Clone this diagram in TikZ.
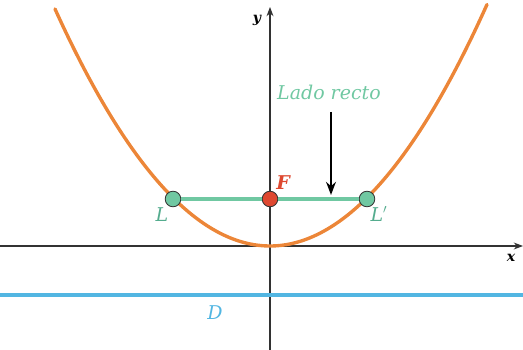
\documentclass[tikz,border=0pt]{standalone}
\usepackage{fontspec}
\setmainfont{DejaVu Serif}
\usetikzlibrary{arrows.meta}
\definecolor{naranja}{RGB}{236,134,56}
\definecolor{verdeagua}{RGB}{112,200,162}
\definecolor{verdeosc}{RGB}{84,172,142}
\definecolor{celeste}{RGB}{82,182,226}
\definecolor{rojofoco}{RGB}{222,72,48}
\definecolor{ejes}{RGB}{50,50,50}

\begin{document}
\begin{tikzpicture}[>=Stealth, scale=0.25,
    pto/.style={circle, draw=ejes, line width=0.6pt, minimum size=0.39cm, inner sep=0pt},
    etiq/.style={font=\itshape\fontsize{13.5}{15}\selectfont}]
\useasboundingbox (-27,-10.4) rectangle (25.3,24.6);
\coordinate (xizq) at (-27,0);
\coordinate (xder) at (25.3,0);
\coordinate (yabajo) at (0,-10.4);
\coordinate (yarriba) at (0,23.9);
\draw[->, ejes, line width=0.8pt] (xizq) -- (xder);
\draw[->, ejes, line width=0.8pt] (yabajo) -- (yarriba);
\node[font=\bfseries\itshape] (ex) at (24.1,-1.2) {x};
\node[font=\bfseries\itshape] (ye) at (-1.3,22.6) {y};
\coordinate (dizq) at (-27,-4.9);
\coordinate (dder) at (25.3,-4.9);
\draw[celeste, line width=2.8pt] (dizq) -- (dder);
\node[etiq, text=celeste] (D) at (-5.5,-6.7) {D};
\draw[naranja, line width=2.4pt, line cap=round] plot[domain=-21.5:21.7, samples=120, smooth] (\x,{\x*\x/19.5});
\node[pto, fill=verdeagua] (L) at (-9.7,4.7) {};
\node[pto, fill=verdeagua] (Lp) at (9.7,4.7) {};
\node[pto, fill=rojofoco] (F) at (0,4.7) {};
\draw[verdeagua, line width=3pt] (L) -- (F) -- (Lp);
\node[etiq, text=verdeosc] (etL) at (-10.8,3.1) {L};
\node[etiq, text=verdeosc] (etLp) at (10.9,3.2) {L$'$};
\node[font=\bfseries\itshape\fontsize{13.5}{15}\selectfont, text=rojofoco] (etF) at (1.3,6.3) {F};
\node[etiq, text=verdeagua] (lado) at (5.9,15.4) {Lado recto};
\coordinate (flecha) at (6.1,13.4);
\coordinate (punta) at (6.1,5.1);
\draw[->, line width=1.4pt] (flecha) -- (punta);
\end{tikzpicture}
\end{document}
